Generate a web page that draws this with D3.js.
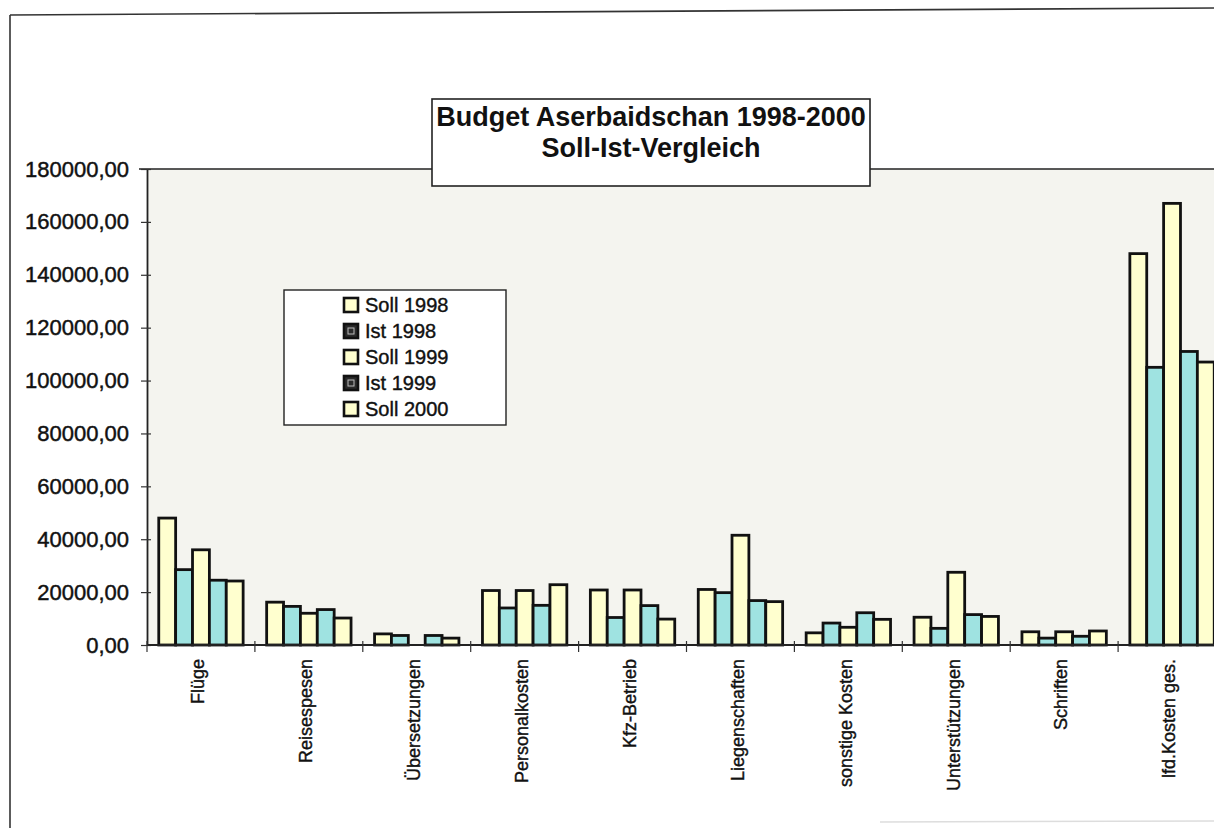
<!DOCTYPE html>
<html>
<head>
<meta charset="utf-8">
<script src="https://cdn.jsdelivr.net/npm/d3@7"></script>
<style>
  html, body { margin: 0; padding: 0; background: #ffffff; }
  svg { display: block; }
  text { font-family: "Liberation Sans", Arial, sans-serif; fill: #111; }
</style>
</head>
<body>
<svg id="chart" width="1214" height="828"></svg>
<script>
// ---- data ----
const categories = ["Flüge", "Reisespesen", "Übersetzungen", "Personalkosten", "Kfz-Betrieb",
  "Liegenschaften", "sonstige Kosten", "Unterstützungen", "Schriften", "lfd.Kosten ges."];
const seriesNames = ["Soll 1998", "Ist 1998", "Soll 1999", "Ist 1999", "Soll 2000"];
const soll1998 = [48000, 16200, 4200, 20600, 20800, 21000, 4600, 10500, 5000, 148000];
const ist1998  = [28500, 14600, 3600, 14000, 10400, 19800, 8300, 6300, 2600, 105000];
const soll1999 = [36000, 12000, 0, 20600, 20800, 41500, 6700, 27500, 5000, 167000];
const ist1999  = [24500, 13400, 3600, 15000, 14900, 16800, 12200, 11500, 3300, 111000];
const soll2000 = [24200, 10200, 2600, 22800, 9800, 16400, 9700, 10800, 5300, 107000];
const yTicks = [0, 20000, 40000, 60000, 80000, 100000, 120000, 140000, 160000, 180000];
const titleLines = ["Budget Aserbaidschan 1998-2000", "Soll-Ist-Vergleich"];

const seriesValues = [soll1998, ist1998, soll1999, ist1999, soll2000];
const colors = { soll: "#ffffcf", ist: "#9fe3e1" };
const seriesColor = seriesNames.map(n => n.startsWith("Soll") ? colors.soll : colors.ist);
const FONT = "'Liberation Sans', Arial, sans-serif";

const svg = d3.select("#chart");

// outer frame (scanned page border)
svg.append("line").attr("x1", 10).attr("y1", 15).attr("x2", 1214).attr("y2", 8)
  .attr("stroke", "#333").attr("stroke-width", 1.6);
svg.append("line").attr("x1", 10).attr("y1", 15).attr("x2", 10).attr("y2", 828)
  .attr("stroke", "#333").attr("stroke-width", 1.6);
svg.append("line").attr("x1", 880).attr("y1", 822).attr("x2", 1214).attr("y2", 821)
  .attr("stroke", "#ddd").attr("stroke-width", 1.5);

// scales
const plotLeft = 147, plotRight = 1226, plotTop = 169, plotBottom = 645;
const x0 = d3.scaleBand().domain(categories).range([plotLeft, plotRight])
  .paddingInner(0.218).paddingOuter(0.109);
const x1 = d3.scaleBand().domain(seriesNames).range([0, x0.bandwidth()]).padding(0);
const y = d3.scaleLinear().domain([0, 180000]).range([plotBottom, plotTop]);

// plot background
svg.append("rect").attr("x", plotLeft).attr("y", plotTop)
  .attr("width", plotRight - plotLeft).attr("height", plotBottom - plotTop)
  .attr("fill", "#f4f4ef");
svg.append("line").attr("x1", plotLeft - 8).attr("x2", 1214)
  .attr("y1", plotTop).attr("y2", plotTop).attr("stroke", "#222").attr("stroke-width", 1.6);

// bars
const groups = svg.append("g").selectAll("g").data(categories).join("g")
  .attr("transform", d => `translate(${x0(d)},0)`);
groups.selectAll("rect")
  .data((c, ci) => seriesNames.map((s, si) => ({ s, si, v: seriesValues[si][ci] })))
  .join("rect")
  .filter(d => d.v > 0)
  .attr("x", d => x1(d.s))
  .attr("y", d => y(d.v))
  .attr("width", x1.bandwidth())
  .attr("height", d => y(0) - y(d.v))
  .attr("fill", d => seriesColor[d.si])
  .attr("stroke", "#111").attr("stroke-width", 2.8);

// y axis
const yAxis = d3.axisLeft(y).tickValues(yTicks)
  .tickFormat(d => d3.format(".2f")(d).replace(".", ","))
  .tickSizeInner(6).tickSizeOuter(0).tickPadding(12);
const gy = svg.append("g").attr("transform", `translate(${plotLeft},0)`).call(yAxis);
gy.select(".domain").attr("stroke", "#222").attr("stroke-width", 1.8);
gy.selectAll(".tick line").attr("x2", -6).attr("x1", 4).attr("stroke", "#333").attr("stroke-width", 1.2);
gy.selectAll(".tick text").attr("font-size", 22).attr("fill", "#111")
  .attr("stroke", "#111").attr("stroke-width", 0.45)
  .style("font-family", FONT);

// x axis baseline + group boundary ticks
const step = x0.step();
const gapHalf = (step - x0.bandwidth()) / 2;
const boundaries = categories.map(c => x0(c) - gapHalf).concat([x0(categories[categories.length - 1]) + x0.bandwidth() + gapHalf]);
svg.append("line").attr("x1", plotLeft).attr("x2", 1214)
  .attr("y1", y(0)).attr("y2", y(0)).attr("stroke", "#222").attr("stroke-width", 2);
svg.append("g").selectAll("line").data(boundaries).join("line")
  .attr("x1", d => d).attr("x2", d => d)
  .attr("y1", y(0) - 4).attr("y2", y(0) + 7)
  .attr("stroke", "#333").attr("stroke-width", 1.2);

// category labels
const xAxis = d3.axisBottom(x0).tickSize(0).tickPadding(0);
const gx = svg.append("g").attr("transform", `translate(0,${y(0)})`).call(xAxis);
gx.select(".domain").remove();
gx.selectAll(".tick text")
  .attr("transform", "rotate(-90)")
  .attr("text-anchor", "end")
  .attr("x", -14).attr("y", -3).attr("dy", "0.35em")
  .attr("font-size", 18).attr("fill", "#111")
  .attr("stroke", "#111").attr("stroke-width", 0.4)
  .style("font-family", FONT);

// title box
const tb = { x: 432, y: 99, w: 438, h: 87 };
svg.append("rect").attr("x", tb.x).attr("y", tb.y).attr("width", tb.w).attr("height", tb.h)
  .attr("fill", "#fff").attr("stroke", "#222").attr("stroke-width", 1.6);
svg.append("g").selectAll("text").data(titleLines).join("text")
  .attr("x", tb.x + tb.w / 2).attr("y", (d, i) => 117 + i * 31).attr("dy", "0.35em")
  .attr("text-anchor", "middle").attr("font-size", 27).attr("font-weight", "bold")
  .text(d => d);

// legend
const lg = { x: 284, y: 290, w: 222, h: 135 };
svg.append("rect").attr("x", lg.x).attr("y", lg.y).attr("width", lg.w).attr("height", lg.h)
  .attr("fill", "#fff").attr("stroke", "#222").attr("stroke-width", 1.4);
const items = svg.append("g").selectAll("g").data(seriesNames).join("g")
  .attr("transform", (d, i) => `translate(343,${305 + i * 26})`);
items.append("rect").attr("x", 1).attr("y", -7).attr("width", 14).attr("height", 14)
  .attr("fill", (d, i) => i % 2 === 0 ? seriesColor[i] : "#2a2a2a")
  .attr("stroke", "#111").attr("stroke-width", 2.6);
items.filter((d, i) => i % 2 === 1).append("rect")
  .attr("x", 5).attr("y", -3).attr("width", 6).attr("height", 6)
  .attr("fill", "none").attr("stroke", "#bbb").attr("stroke-width", 1);
items.append("text").attr("x", 22).attr("dy", "0.35em").attr("font-size", 20)
  .attr("stroke", "#111").attr("stroke-width", 0.4)
  .text(d => d);
</script>
</body>
</html>
